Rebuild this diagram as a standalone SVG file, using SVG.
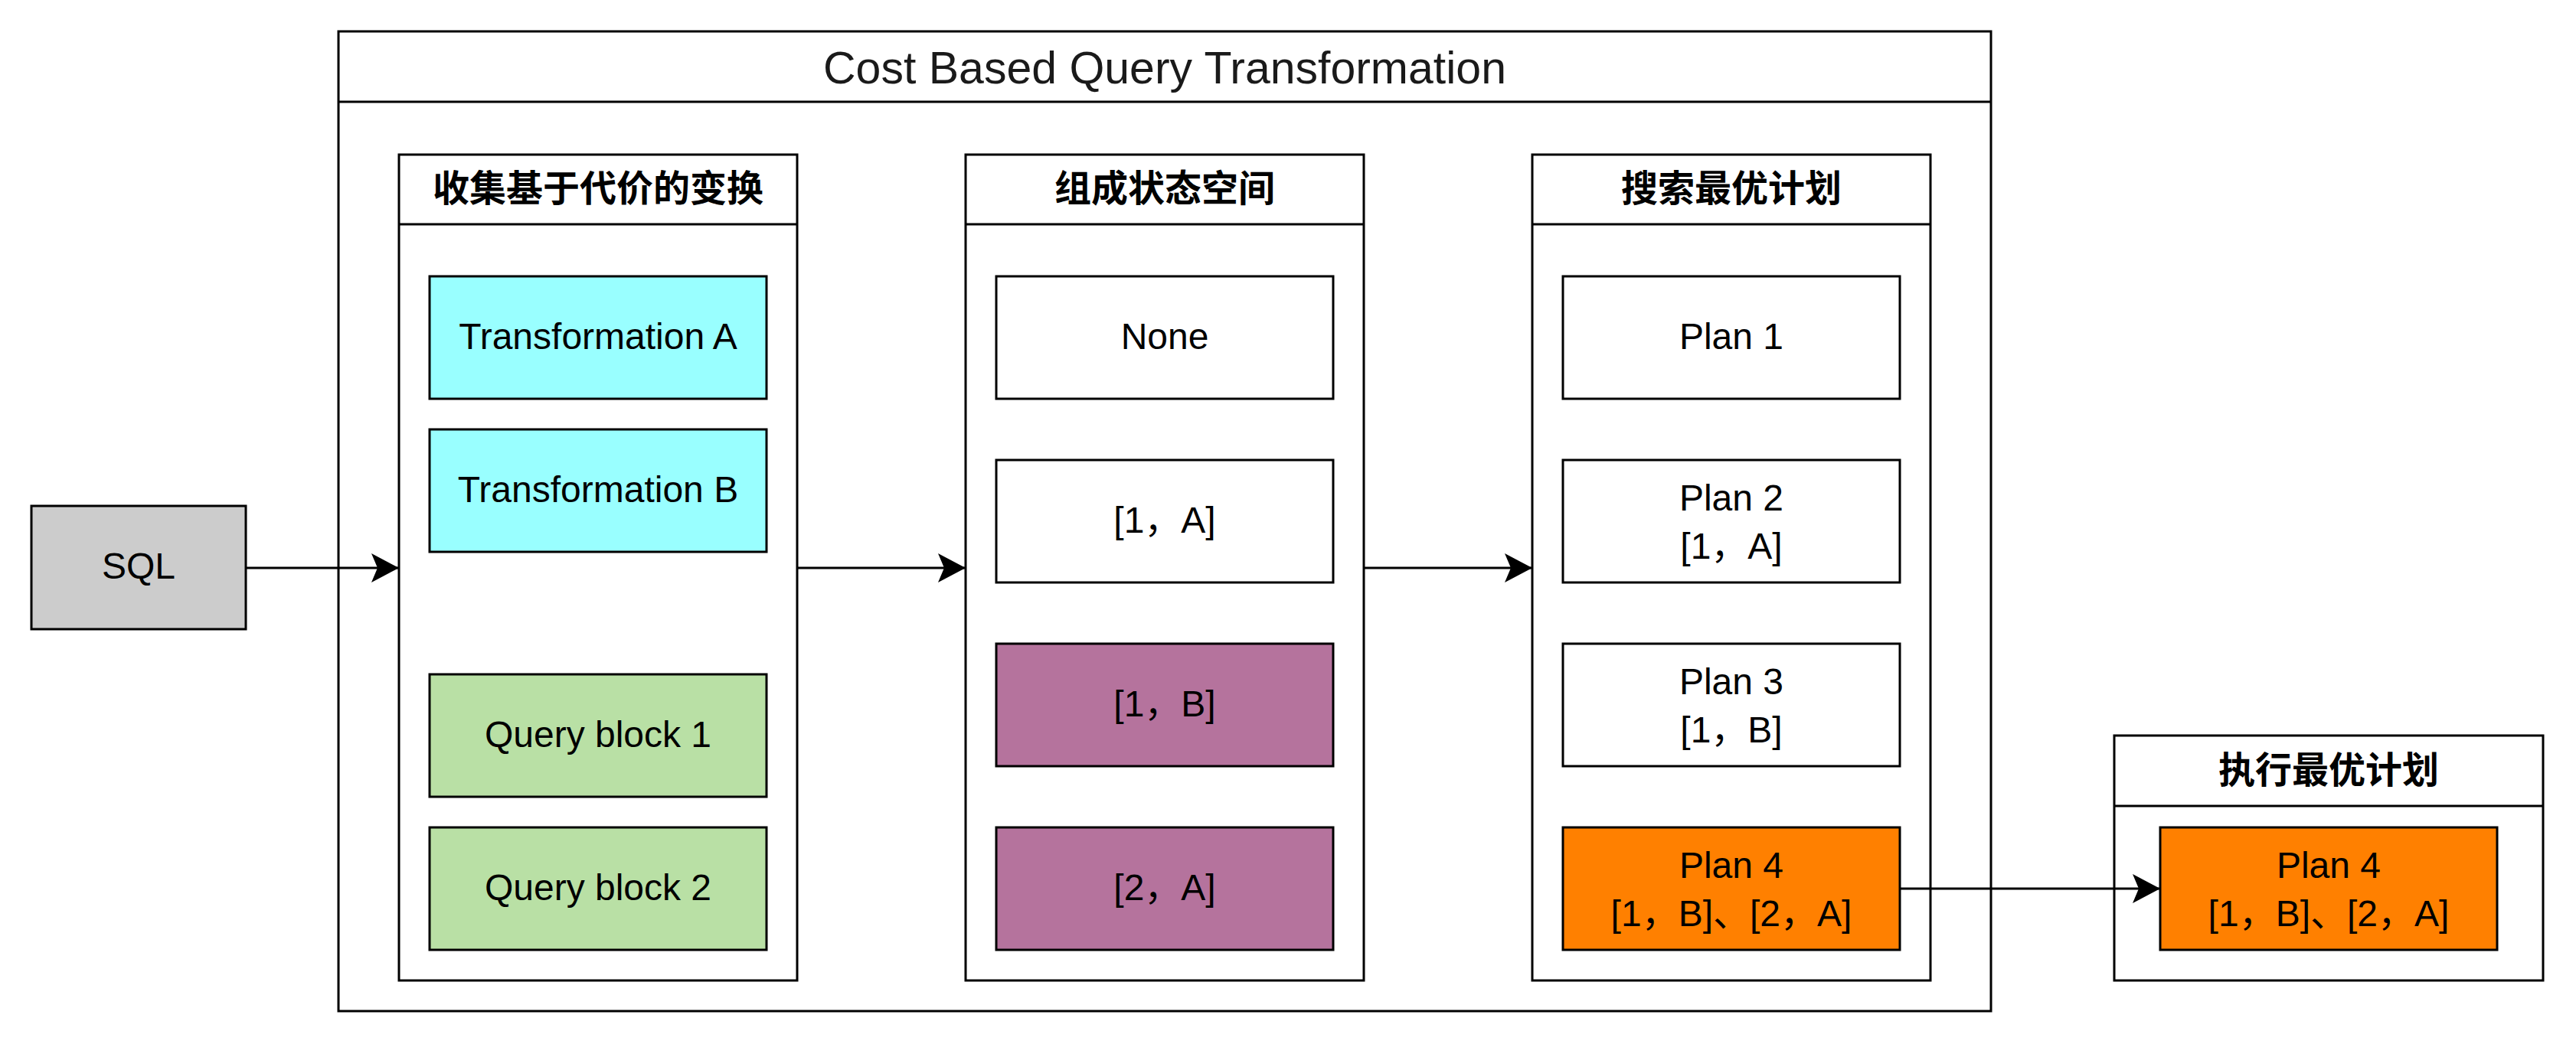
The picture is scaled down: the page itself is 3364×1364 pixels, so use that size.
<svg xmlns="http://www.w3.org/2000/svg" width="3364" height="1364" viewBox="0 0 3364 1364">
<style>
.box{stroke:#000;stroke-width:3;fill:#fff}
.t{font-family:"Liberation Sans",Arial,"Noto Sans CJK SC",sans-serif;font-size:48px;fill:#000;text-anchor:middle}
.h{font-family:"Liberation Sans",Arial,"Noto Sans CJK SC",sans-serif;font-size:48px;font-weight:bold;fill:#000;text-anchor:middle}
.title{font-family:"Liberation Sans",Arial,sans-serif;font-size:59px;fill:#1a1a1a;text-anchor:middle}
.cyan{fill:#99FFFF}.green{fill:#B9E0A5}.purple{fill:#B5739D}.orange{fill:#FF8000}.gray{fill:#CCCCCC}
.edge{stroke:#000;stroke-width:3;fill:none;marker-end:url(#arr)}
</style>
<defs>
<marker id="arr" markerUnits="userSpaceOnUse" markerWidth="40" markerHeight="40" viewBox="0 0 40 40" refX="36" refY="19" orient="auto">
<path d="M0,0 L36,19 L0,38 L8,19 Z" fill="#000"/>
</marker>
</defs>
<rect width="3364" height="1364" fill="#fff"/>

<g id="container">
<rect class="box" x="442" y="41" width="2158" height="1280"/>
<line x1="442" y1="133" x2="2600" y2="133" stroke="#000" stroke-width="3"/>
<text class="title" x="1521" y="109">Cost Based Query Transformation</text>
</g>

<g id="col1">
<rect class="box" x="521" y="202" width="520" height="1079"/>
<line x1="521" y1="293" x2="1041" y2="293" stroke="#000" stroke-width="3"/>
<text class="h" x="781" y="263">收集基于代价的变换</text>
</g>
<g id="col2">
<rect class="box" x="1261" y="202" width="520" height="1079"/>
<line x1="1261" y1="293" x2="1781" y2="293" stroke="#000" stroke-width="3"/>
<text class="h" x="1521" y="263">组成状态空间</text>
</g>
<g id="col3">
<rect class="box" x="2001" y="202" width="520" height="1079"/>
<line x1="2001" y1="293" x2="2521" y2="293" stroke="#000" stroke-width="3"/>
<text class="h" x="2261" y="263">搜索最优计划</text>
</g>
<g id="col4">
<rect class="box" x="2761" y="961" width="560" height="320"/>
<line x1="2761" y1="1053" x2="3321" y2="1053" stroke="#000" stroke-width="3"/>
<text class="h" x="3041" y="1023">执行最优计划</text>
</g>

<g id="sql">
<rect class="box gray" x="41" y="661" width="280" height="161"/>
<text class="t" x="181" y="756">SQL</text>
</g>

<g id="transA"><rect class="box cyan" x="561" y="361" width="440" height="160"/><text class="t" x="781" y="456">Transformation A</text></g>
<g id="transB"><rect class="box cyan" x="561" y="561" width="440" height="160"/><text class="t" x="781" y="656">Transformation B</text></g>
<g id="qb1"><rect class="box green" x="561" y="881" width="440" height="160"/><text class="t" x="781" y="976">Query block 1</text></g>
<g id="qb2"><rect class="box green" x="561" y="1081" width="440" height="160"/><text class="t" x="781" y="1176">Query block 2</text></g>

<g id="sNone"><rect class="box" x="1301" y="361" width="440" height="160"/><text class="t" x="1521" y="456">None</text></g>
<g id="s1A"><rect class="box" x="1301" y="601" width="440" height="160"/><text class="t" x="1521" y="696">[1，A]</text></g>
<g id="s1B"><rect class="box purple" x="1301" y="841" width="440" height="160"/><text class="t" x="1521" y="936">[1，B]</text></g>
<g id="s2A"><rect class="box purple" x="1301" y="1081" width="440" height="160"/><text class="t" x="1521" y="1176">[2，A]</text></g>

<g id="plan1"><rect class="box" x="2041" y="361" width="440" height="160"/><text class="t" x="2261" y="456">Plan 1</text></g>
<g id="plan2"><rect class="box" x="2041" y="601" width="440" height="160"/><text class="t" x="2261" y="667">Plan 2</text><text class="t" x="2261" y="730">[1，A]</text></g>
<g id="plan3"><rect class="box" x="2041" y="841" width="440" height="160"/><text class="t" x="2261" y="907">Plan 3</text><text class="t" x="2261" y="970">[1，B]</text></g>
<g id="plan4"><rect class="box orange" x="2041" y="1081" width="440" height="160"/><text class="t" x="2261" y="1147">Plan 4</text><text class="t" x="2261" y="1210">[1，B]、[2，A]</text></g>
<g id="plan4exec"><rect class="box orange" x="2821" y="1081" width="440" height="160"/><text class="t" x="3041" y="1147">Plan 4</text><text class="t" x="3041" y="1210">[1，B]、[2，A]</text></g>

<g id="connectors">
<line class="edge" x1="321" y1="742" x2="521" y2="742"/>
<line class="edge" x1="1041" y1="742" x2="1261" y2="742"/>
<line class="edge" x1="1781" y1="742" x2="2001" y2="742"/>
<line class="edge" x1="2481" y1="1161" x2="2821" y2="1161"/>
</g>
</svg>
